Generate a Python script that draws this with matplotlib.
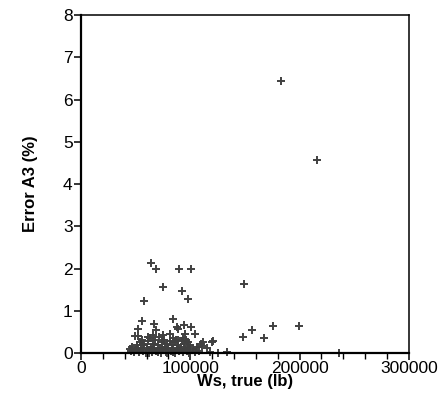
import numpy as np
import matplotlib
matplotlib.use("Agg")
import matplotlib.pyplot as plt
from matplotlib.ticker import MultipleLocator, FixedLocator

plt.rcParams['font.family'] = ['Liberation Sans', 'DejaVu Sans']

# Ws, true (thousands of lb) and Error A3 (%)
ws_k = [182.6, 215.5, 149, 156, 176, 199.4, 148.5, 167.7, 236, 134,
        64, 68.6, 89.6, 101, 75.3, 92, 97.6, 57.6,
        84.5, 55.5, 52.4, 67, 69, 87.5, 89, 94, 101, 104, 95, 121, 120, 112, 111, 118,
        49, 52, 61.5, 66, 75, 81, 84.5, 89, 93.5, 98,
        45, 46, 47, 48, 50, 51, 52.5, 53, 54, 55,
        56, 57, 58, 59, 60, 61, 62, 63, 64, 65,
        66, 67, 68, 69, 70, 71, 72, 73, 74, 75,
        76, 77, 78, 79, 80, 81, 82, 83, 84, 85,
        86, 87, 88, 89, 90, 91, 92, 93, 94, 95,
        96, 97, 98, 99, 100, 102, 104, 106, 108, 110,
        57, 62, 70, 74, 79, 84, 100, 115, 125]
err = [6.45, 4.58, 1.63, 0.54, 0.65, 0.63, 0.38, 0.35, 0.0, 0.03,
       2.12, 2.0, 1.98, 1.98, 1.57, 1.47, 1.27, 1.23,
       0.8, 0.76, 0.58, 0.69, 0.54, 0.62, 0.56, 0.66, 0.62, 0.46, 0.46, 0.29, 0.27, 0.27, 0.17, 0.02,
       0.4, 0.4, 0.39, 0.43, 0.43, 0.46, 0.35, 0.31, 0.35, 0.27,
       0.1, 0.05, 0.15, 0.02, 0.08, 0.2, 0.12, 0.03, 0.25, 0.1,
       0.3, 0.05, 0.18, 0.0, 0.12, 0.28, 0.08, 0.35, 0.15, 0.02,
       0.22, 0.1, 0.32, 0.05, 0.18, 0.38, 0.12, 0.0, 0.25, 0.08,
       0.3, 0.15, 0.02, 0.22, 0.1, 0.28, 0.05, 0.18, 0.12, 0.25,
       0.0, 0.3, 0.1, 0.2, 0.05, 0.15, 0.28, 0.02, 0.22, 0.1,
       0.32, 0.05, 0.15, 0.0, 0.2, 0.1, 0.02, 0.15, 0.05, 0.22,
       0.22, 0.0, 0.03, 0.07, 0.0, 0.03, 0.04, 0.12, 0.0]

x = np.array(ws_k) * 1000
y = np.array(err)

fig = plt.figure(figsize=(4.43, 3.98), dpi=100)
ax = fig.add_axes([0.183, 0.113, 0.740, 0.849])

ax.plot(x, y, linestyle='none', marker='+', color='#404040',
        markersize=6, markeredgewidth=1.4, clip_on=False)

ax.set_xlim(0, 300000)
ax.set_ylim(0, 8)
ax.xaxis.set_major_locator(FixedLocator([0, 100000, 200000, 300000]))
ax.xaxis.set_minor_locator(MultipleLocator(20000))
ax.yaxis.set_major_locator(MultipleLocator(1))
ax.set_xticklabels(['0', '100000', '200000', '300000'])

for s in ax.spines.values():
    s.set_linewidth(1.1)
ax.spines['bottom'].set_linewidth(1.6)
ax.spines['left'].set_linewidth(1.6)

ax.tick_params(axis='both', which='major', direction='out', length=5, width=1.1,
               labelsize=12.5, pad=1)
ax.tick_params(axis='x', which='minor', direction='out', length=4, width=1.0)

ax.set_xlabel('Ws, true (lb)', fontsize=12, fontweight='bold', labelpad=-2)
ax.set_ylabel('Error A3 (%)', fontsize=12, fontweight='bold', labelpad=18)

fig.savefig('out.png', dpi=100)
